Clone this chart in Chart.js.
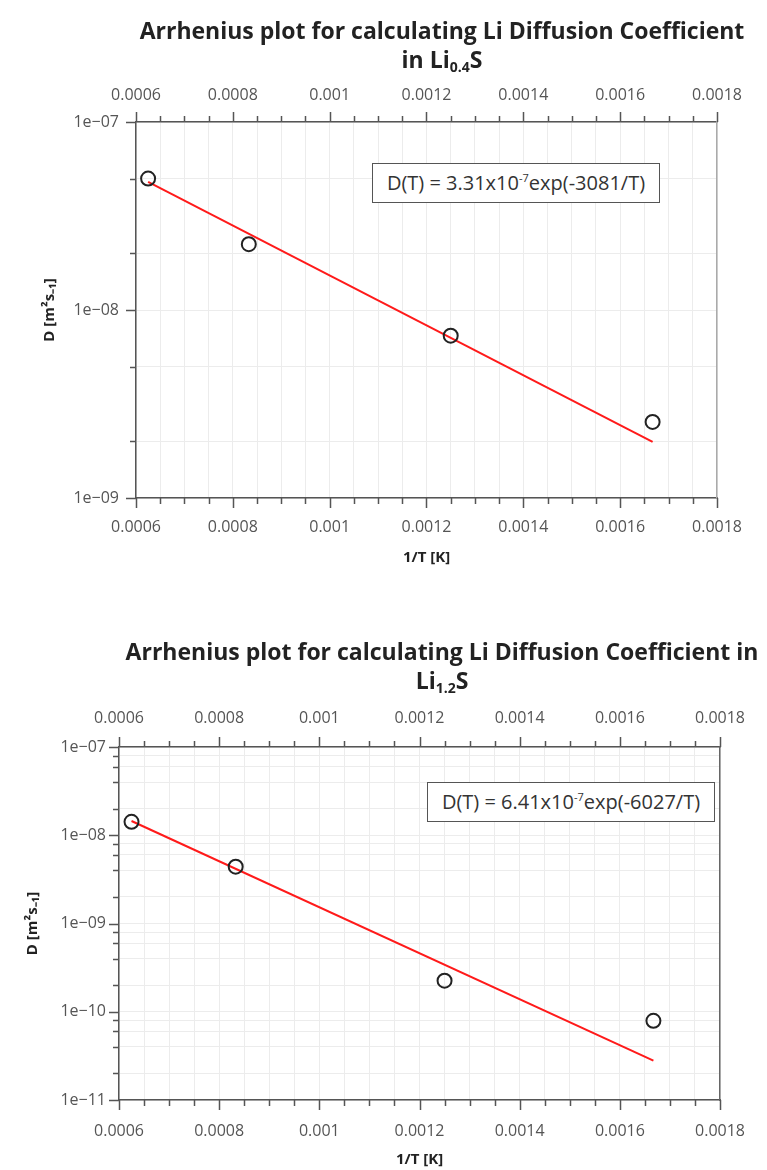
<!DOCTYPE html>
<html>
<head>
<meta charset="utf-8">
<script src="https://cdn.jsdelivr.net/npm/chart.js@4.4.1/dist/chart.umd.min.js"></script>
<style>
html,body{margin:0;padding:0;background:#fff;}
body{width:767px;height:1170px;overflow:hidden;position:relative;font-family:'Open Sans',sans-serif;}
.title{position:absolute;left:42px;width:800px;text-align:center;font-weight:bold;font-size:23px;color:#222;line-height:29px;z-index:2;white-space:nowrap;}
.title sub{font-size:14px;vertical-align:-4px;line-height:0;}
.box{position:absolute;border:1.5px solid #555;background:#fff;font-size:20px;color:#333;text-align:center;box-sizing:border-box;z-index:2;white-space:nowrap;}
.box sup{font-size:11px;vertical-align:8px;line-height:0;}
canvas{position:absolute;left:0;}
</style>
</head>
<body>
<div class="title" style="top:16px;">Arrhenius plot for calculating Li Diffusion Coefficient<br>in Li<sub>0.4</sub>S</div>
<div class="title" style="top:637px;">Arrhenius plot for calculating Li Diffusion Coefficient in<br>Li<sub>1.2</sub>S</div>
<div class="box" style="left:372px;top:163px;width:288px;height:40px;line-height:37px;">D(T) = 3.31x10<sup>-7</sup>exp(-3081/T)</div>
<div class="box" style="left:427px;top:782px;width:288px;height:40px;line-height:37px;">D(T) = 6.41x10<sup>-7</sup>exp(-6027/T)</div>
<canvas id="c1" width="767" height="585" style="top:0;width:767px;height:585px;"></canvas>
<canvas id="c2" width="767" height="585" style="top:585px;width:767px;height:585px;"></canvas>
<script>
// ---- shared x axis ticks ----
const xMajorTicks = [0.0006, 0.0008, 0.001, 0.0012, 0.0014, 0.0016, 0.0018];
const xTickLabels = ['0.0006', '0.0008', '0.001', '0.0012', '0.0014', '0.0016', '0.0018'];

// ---- Li0.4S ----
const invT_Li04S = [0.000625, 0.000833, 0.00125, 0.001667];
const D_Li04S = [5.0e-8, 2.24e-8, 7.3e-9, 2.54e-9];
const fitInvT_Li04S = [0.000625, 0.001667];
const fitD_Li04S = [4.8e-8, 1.99e-9];
const yMajor_Li04S = [1e-9, 1e-8, 1e-7];
const yLabels_Li04S = ['1e\u221209', '1e\u221208', '1e\u221207'];
const yMinor_Li04S = [2e-9, 5e-9, 2e-8, 5e-8];

// ---- Li1.2S ----
const invT_Li12S = [0.000625, 0.000833, 0.00125, 0.001667];
const D_Li12S = [1.42e-8, 4.4e-9, 2.25e-10, 7.9e-11];
const fitInvT_Li12S = [0.000625, 0.001667];
const fitD_Li12S = [1.45e-8, 2.8e-11];
const yMajor_Li12S = [1e-11, 1e-10, 1e-9, 1e-8, 1e-7];
const yLabels_Li12S = ['1e\u221211', '1e\u221210', '1e\u221209', '1e\u221208', '1e\u221207'];
const yMinor_Li12S = [2e-11, 4e-11, 6e-11, 8e-11, 2e-10, 4e-10, 6e-10, 8e-10,
                      2e-9, 4e-9, 6e-9, 8e-9, 2e-8, 4e-8, 6e-8, 8e-8];

const yTitleText = 'D [m\u00B2s\u208B\u2081]';
const xTitleText = '1/T [K]';

function xMinorTicks() {
  const out = [];
  for (let i = 0; i < xMajorTicks.length - 1; i++) {
    const a = xMajorTicks[i], b = xMajorTicks[i + 1];
    for (let k = 1; k < 4; k++) out.push(a + (b - a) * k / 4);
  }
  return out;
}
function isIn(v, arr) { return arr.some(m => Math.abs(v - m) <= Math.abs(m) * 1e-6); }
function labelFor(v, vals, labels) {
  for (let i = 0; i < vals.length; i++) if (Math.abs(v - vals[i]) <= Math.abs(vals[i]) * 1e-6) return labels[i];
  return '';
}

const tickMarks = {
  id: 'tickMarks',
  afterDraw(chart, args, opts) {
    const ctx = chart.ctx, ca = chart.chartArea;
    const {x, y} = chart.scales;
    ctx.save();
    ctx.strokeStyle = '#555';
    ctx.lineWidth = 1.5;
    ctx.beginPath();
    x.ticks.forEach(t => {
      const px = Math.round(x.getPixelForValue(t.value)) + 0.5;
      const L = isIn(t.value, xMajorTicks) ? opts.major : opts.minor;
      ctx.moveTo(px, ca.bottom); ctx.lineTo(px, ca.bottom + L);
      ctx.moveTo(px, ca.top); ctx.lineTo(px, ca.top - L);
    });
    y.ticks.forEach(t => {
      const py = Math.round(y.getPixelForValue(t.value)) + 0.5;
      const L = isIn(t.value, opts.yMajor) ? opts.major : opts.minor;
      ctx.moveTo(ca.left, py); ctx.lineTo(ca.left - L, py);
    });
    ctx.stroke();
    ctx.restore();
  }
};

function makeChart(id, c) {
  const xAll = xMajorTicks.concat(xMinorTicks()).sort((a, b) => a - b);
  const yAll = c.yMajor.concat(c.yMinor).sort((a, b) => a - b);
  const tickFont = {family: 'Open Sans', size: 16};
  const titleFont = {family: 'Open Sans', size: 15, weight: 'bold'};
  const grid = {color: '#ececec', lineWidth: 1, drawTicks: false};
  const border = {color: '#555', width: 1.5};
  return new Chart(document.getElementById(id), {
    type: 'scatter',
    data: {
      datasets: [
        {type: 'scatter', data: c.x.map((v, i) => ({x: v, y: c.y[i]})),
         pointRadius: 7, pointHoverRadius: 7, pointBorderWidth: 2,
         pointBorderColor: '#222', pointBackgroundColor: 'rgba(0,0,0,0)', order: 0},
        {type: 'line', data: c.fitX.map((v, i) => ({x: v, y: c.fitY[i]})),
         borderColor: '#ff1a1a', borderWidth: 2, pointRadius: 0, fill: false, order: 1}
      ]
    },
    plugins: [tickMarks],
    options: {
      responsive: false, animation: false, events: [],
      layout: {padding: 0},
      plugins: {
        legend: {display: false}, tooltip: {enabled: false},
        tickMarks: {major: 10, minor: 6, yMajor: c.yMajor}
      },
      scales: {
        x: {
          type: 'linear', position: 'bottom', min: 0.0006, max: 0.0018,
          afterBuildTicks: s => { s.ticks = xAll.map(v => ({value: v})); },
          ticks: {autoSkip: false, maxRotation: 0, padding: c.xPad, font: tickFont, color: '#555',
                  callback: v => labelFor(v, xMajorTicks, xTickLabels)},
          grid: grid, border: border,
          title: {display: true, text: xTitleText, font: titleFont, color: '#222', padding: {top: 0, bottom: c.xTitlePad}},
          afterFit: s => { s.height = c.xH; }
        },
        x2: {
          type: 'linear', position: 'top', min: 0.0006, max: 0.0018,
          afterBuildTicks: s => { s.ticks = xAll.map(v => ({value: v})); },
          ticks: {autoSkip: false, maxRotation: 0, padding: c.x2Pad, font: tickFont, color: '#555',
                  callback: v => labelFor(v, xMajorTicks, xTickLabels)},
          grid: {drawOnChartArea: false, drawTicks: false}, border: border,
          afterFit: s => { s.height = c.x2H; }
        },
        y: {
          type: 'logarithmic', position: 'left', min: c.yMin, max: c.yMax,
          afterBuildTicks: s => { s.ticks = yAll.map(v => ({value: v})); },
          ticks: {autoSkip: false, padding: c.yPad, font: tickFont, color: '#555',
                  callback: v => labelFor(v, c.yMajor, c.yLabels)},
          grid: grid, border: border,
          title: {display: true, text: yTitleText, font: titleFont, color: '#222', padding: {top: c.yTitlePad, bottom: 0}},
          afterFit: s => { s.width = c.yW; }
        },
        y2: {
          type: 'logarithmic', position: 'right', min: c.yMin, max: c.yMax,
          ticks: {display: false},
          grid: {drawOnChartArea: false, drawTicks: false},
          border: {color: c.rightBorder, width: 1.5},
          afterFit: s => { s.width = c.y2W; }
        }
      }
    }
  });
}

makeChart('c1', {
  x: invT_Li04S, y: D_Li04S, fitX: fitInvT_Li04S, fitY: fitD_Li04S,
  yMajor: yMajor_Li04S, yLabels: yLabels_Li04S, yMinor: yMinor_Li04S,
  yMin: 1e-9, yMax: 1e-7,
  yW: 136, y2W: 50, x2H: 122, xH: 87,
  xPad: 20, xTitlePad: 18, x2Pad: 17, yPad: 17, yTitlePad: 41, rightBorder: '#aaa'
});
makeChart('c2', {
  x: invT_Li12S, y: D_Li12S, fitX: fitInvT_Li12S, fitY: fitD_Li12S,
  yMajor: yMajor_Li12S, yLabels: yLabels_Li12S, yMinor: yMinor_Li12S,
  yMin: 1e-11, yMax: 1e-7,
  yW: 119, y2W: 30, x2H: 162, xH: 70,
  xPad: 22, xTitlePad: 1, x2Pad: 19, yPad: 13, yTitlePad: 24, rightBorder: '#666'
});
</script>
</body>
</html>
